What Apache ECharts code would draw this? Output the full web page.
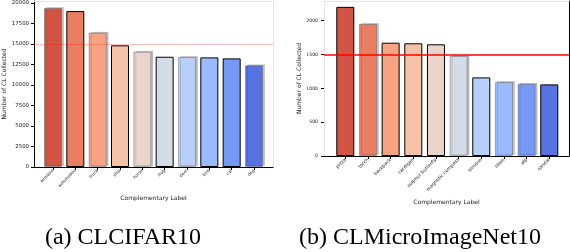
<!DOCTYPE html>
<html><head><meta charset="utf-8">
<script src="https://cdn.jsdelivr.net/npm/echarts@6/dist/echarts.min.js"></script>
<style>html,body{margin:0;padding:0;background:#fff}#c{width:570px;height:252px}</style>
</head><body><div id="c"></div>
<script>
const cifarLabels = ['airplane','automobile','truck','ship','horse','frog','deer','bird','cat','dog'];
const cifarValues = [19390, 19020, 16380, 14840, 14060, 13450, 13420, 13370, 13250, 12400];
const cifarTicks = [0, 2500, 5000, 7500, 10000, 12500, 15000, 17500, 20000];
const microLabels = ['pizza','torch','backpack','cardigan','sulphur butterfly','magnetic compass','kimono','oboe','alp','sandal'];
const microValues = [2203, 1951, 1674, 1665, 1650, 1477, 1161, 1092, 1067, 1058];
const microTicks = [0, 500, 1000, 1500, 2000];
const cifarMean = 15000;
const microMean = 1500;

const palette = ['#d15445','#e87e62','#f5a383','#f6c2a8','#e9d5cb','#d3dbe7','#b8cff8','#9abbff','#7699f6','#5673e0'];
const leftEdge = ['g','k','g','k','g','k','g','k','k','g'];
const rightEdge = ['k','g','k','k','k','g','k','g','g','k'];

function styleFor(e, i) {
  if (e === 'k') return {color: palette[i], borderColor: '#000', borderWidth: 1};
  return {color: palette[i], borderColor: 'rgba(90,90,90,0.45)', borderWidth: 1,
          shadowColor: 'rgba(0,0,0,0.25)', shadowOffsetX: 2, shadowOffsetY: -1, shadowBlur: 0};
}
function barData(values, edges) {
  return values.map((v, i) => ({value: [i, v], itemStyle: styleFor(edges[i], i)}));
}
const idx = cifarLabels.map((_, i) => i);
const FONT = 'DejaVu Sans';

function xAxisFor(gi, labels, min, max, nameGap, fs) {
  return {
    gridIndex: gi, type: 'value', min: min, max: max,
    name: 'Complementary Label', nameLocation: 'middle', nameGap: nameGap,
    nameTextStyle: {fontFamily: FONT, fontSize: 6, color: '#222'},
    axisLine: {onZero: false, lineStyle: {color: '#000', width: 1}},
    axisTick: {show: true, customValues: idx, length: 3, lineStyle: {color: '#000'}},
    axisLabel: {customValues: idx, rotate: 45, margin: 3, fontFamily: FONT, fontSize: fs, color: '#222',
      hideOverlap: false, formatter: v => labels[Math.round(v)]},
    splitLine: {show: false}
  };
}
function yAxisFor(gi, ticks, max, nameGap, lineColor, margin, fs) {
  return {gridIndex: gi, type: 'value', min: 0, max: max,
    name: 'Number of CL Collected', nameLocation: 'middle', nameGap: nameGap,
    nameTextStyle: {fontFamily: FONT, fontSize: 6, color: '#222'},
    axisLine: {show: true, onZero: false, lineStyle: {color: lineColor}},
    axisTick: {show: true, customValues: ticks, length: 3, lineStyle: {color: '#000'}},
    axisLabel: {customValues: ticks, margin: margin, fontFamily: FONT, fontSize: fs, color: '#222',
      formatter: v => String(v)},
    splitLine: {show: false}};
}
function frameX(gi) {
  return {gridIndex: gi, type: 'value', position: 'top', min: 0, max: 1,
    axisLine: {show: true, onZero: false, lineStyle: {color: '#e6e6e6'}}, axisTick: {show: false},
    axisLabel: {show: false}, splitLine: {show: false}};
}
function frameY(gi, color) {
  return {gridIndex: gi, type: 'value', position: 'right', min: 0, max: 1,
    axisLine: {show: true, onZero: false, lineStyle: {color: color}}, axisTick: {show: false},
    axisLabel: {show: false}, splitLine: {show: false}};
}

const option = {
  animation: false,
  grid: [
    {left: 34, top: 1, right: 297, bottom: 85},
    {left: 324, top: 1, right: 1, bottom: 96}
  ],
  xAxis: [
    xAxisFor(0, cifarLabels, -0.85, 9.85, 27, 4.2),
    xAxisFor(1, microLabels, -0.94, 9.87, 38, 4.7),
    frameX(0), frameX(1)
  ],
  yAxis: [
    yAxisFor(0, cifarTicks, 20250, 27, '#000', 5, 5.4),
    yAxisFor(1, microTicks, 2290, 21, '#e6e6e6', 6, 4.6),
    frameY(0, '#e6e6e6'), frameY(1, '#000')
  ],
  series: [
    {type: 'bar', xAxisIndex: 0, yAxisIndex: 0, barWidth: 18, data: barData(cifarValues, leftEdge),
      markLine: {silent: true, symbol: 'none', label: {show: false},
        lineStyle: {color: 'rgba(255,0,0,0.25)', width: 1, type: 'solid'}, data: [{yAxis: cifarMean}]}},
    {type: 'bar', xAxisIndex: 1, yAxisIndex: 1, barWidth: 18, data: barData(microValues, rightEdge),
      markLine: {silent: true, symbol: 'none', label: {show: false},
        lineStyle: {color: '#ff0000', width: 1.5, type: 'solid'}, data: [{yAxis: microMean}]}}
  ],
  graphic: [
    {type: 'text', x: 123, y: 238, style: {text: '(a) CLCIFAR10', align: 'center', verticalAlign: 'middle',
      font: '24px "Liberation Serif"', fill: '#000'}},
    {type: 'text', x: 420, y: 238, style: {text: '(b) CLMicroImageNet10', align: 'center', verticalAlign: 'middle',
      font: '24px "Liberation Serif"', fill: '#000'}}
  ]
};
const chart = echarts.init(document.getElementById('c'), null, {renderer: 'canvas'});
chart.setOption(option);
</script></body></html>
